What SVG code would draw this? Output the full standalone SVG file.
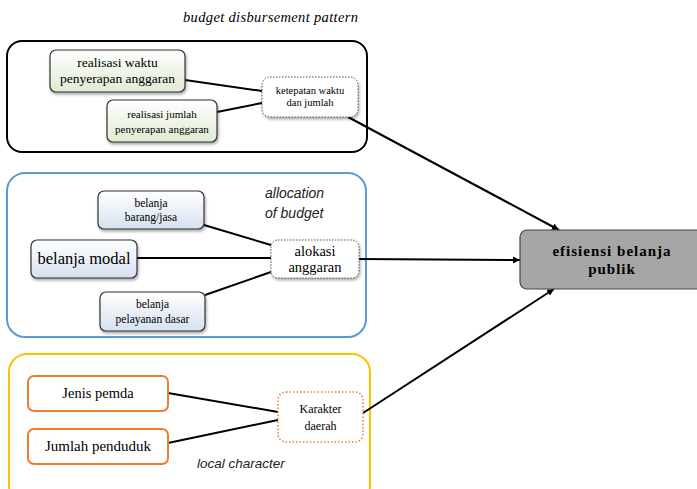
<svg xmlns="http://www.w3.org/2000/svg" width="697" height="489" viewBox="0 0 697 489">
<defs>
<linearGradient id="gGreen" x1="0" y1="0" x2="0" y2="1"><stop offset="0" stop-color="#ffffff"/><stop offset="1" stop-color="#dfead3"/></linearGradient>
<linearGradient id="gBlue" x1="0" y1="0" x2="0" y2="1"><stop offset="0" stop-color="#ffffff"/><stop offset="1" stop-color="#d6e1f0"/></linearGradient>
<filter id="sh" x="-20%" y="-20%" width="140%" height="150%"><feDropShadow dx="1" dy="2" stdDeviation="1.5" flood-color="#000" flood-opacity="0.35"/></filter>
<marker id="arr" viewBox="0 0 10 10" refX="10" refY="5" markerWidth="7" markerHeight="7" orient="auto" markerUnits="userSpaceOnUse"><path d="M0,0 L10,5 L0,10 z" fill="#000"/></marker>
</defs>
<style>
.t{font-family:"Liberation Serif","Times New Roman",serif;fill:#000;text-anchor:middle}
.it{font-family:"Liberation Serif","Times New Roman",serif;font-style:italic;fill:#000}
.is{font-family:"Liberation Sans",Arial,sans-serif;font-style:italic;fill:#222}
.ln{stroke:#000;stroke-width:2;fill:none}
.node{stroke:#333;stroke-width:1.2;filter:url(#sh)}
.dot{fill:#fff;stroke:#555;stroke-width:1;stroke-dasharray:1.5 1.5;filter:url(#sh)}
</style>
<rect width="697" height="489" fill="#fff"/>
<g id="group-top">
<rect x="7" y="41" width="360" height="111" rx="15" fill="none" stroke="#000" stroke-width="2"/>
<text class="it" x="183" y="22" font-size="14.5" textLength="175">budget disbursement pattern</text>
</g>
<g id="group-mid">
<rect x="7" y="173" width="359" height="164" rx="18" fill="none" stroke="#5b9bd5" stroke-width="2"/>
<text class="is" x="265" y="198" font-size="14">allocation</text>
<text class="is" x="265" y="218" font-size="14">of budget</text>
</g>
<g id="group-bot">
<rect x="9" y="354" width="361" height="150" rx="18" fill="none" stroke="#ffc000" stroke-width="2"/>
<text class="is" x="197" y="468" font-size="13.5">local character</text>
</g>
<g id="connectors">
<line class="ln" x1="185" y1="80" x2="262" y2="91"/>
<line class="ln" x1="217" y1="112" x2="262" y2="103"/>
<line class="ln" x1="204" y1="225" x2="271" y2="245"/>
<line class="ln" x1="137" y1="258" x2="271" y2="258"/>
<line class="ln" x1="205" y1="295" x2="271" y2="272"/>
<line class="ln" x1="168" y1="393" x2="278" y2="412"/>
<line class="ln" x1="168" y1="443" x2="278" y2="420"/>
<line class="ln" x1="348" y1="117" x2="559" y2="230" marker-end="url(#arr)"/>
<line class="ln" x1="359" y1="259" x2="520" y2="260" marker-end="url(#arr)"/>
<line class="ln" x1="363" y1="413" x2="554" y2="289" marker-end="url(#arr)"/>
</g>
<g id="n-realisasi-waktu">
<rect class="node" x="50" y="50" width="135" height="42" rx="6" fill="url(#gGreen)"/>
<text class="t" x="117.5" y="67" font-size="13.5">realisasi waktu</text>
<text class="t" x="117.5" y="83" font-size="13.5">penyerapan anggaran</text>
</g>
<g id="n-realisasi-jumlah">
<rect class="node" x="107" y="100" width="110" height="42" rx="6" fill="url(#gGreen)"/>
<text class="t" x="162" y="118" font-size="11">realisasi jumlah</text>
<text class="t" x="162" y="133" font-size="11">penyerapan anggaran</text>
</g>
<g id="n-ketepatan">
<rect class="dot" x="262" y="77" width="96" height="40" rx="8"/>
<text class="t" x="310" y="94" font-size="10.5">ketepatan waktu</text>
<text class="t" x="310" y="106" font-size="10.5">dan jumlah</text>
</g>
<g id="n-barang">
<rect class="node" x="98" y="191" width="106" height="38" rx="6" fill="url(#gBlue)"/>
<text class="t" x="151" y="207" font-size="11.5">belanja</text>
<text class="t" x="151" y="221" font-size="11.5">barang/jasa</text>
</g>
<g id="n-modal">
<rect class="node" x="31" y="240" width="106" height="38" rx="6" fill="url(#gBlue)"/>
<text class="t" x="84" y="264" font-size="16.5">belanja modal</text>
</g>
<g id="n-pelayanan">
<rect class="node" x="100" y="292" width="105" height="39" rx="6" fill="url(#gBlue)"/>
<text class="t" x="152.5" y="308" font-size="11.5">belanja</text>
<text class="t" x="152.5" y="323" font-size="11.5">pelayanan dasar</text>
</g>
<g id="n-alokasi">
<rect class="dot" x="271" y="240" width="88" height="38" rx="7"/>
<text class="t" x="315" y="256" font-size="14.5">alokasi</text>
<text class="t" x="315" y="272" font-size="14.5">anggaran</text>
</g>
<g id="n-jenis">
<rect x="28" y="376" width="140" height="35" rx="6" fill="#fff" stroke="#ed7d31" stroke-width="2"/>
<text class="t" x="98" y="398" font-size="14.5">Jenis pemda</text>
</g>
<g id="n-jumlah">
<rect x="28" y="429" width="140" height="35" rx="6" fill="#fff" stroke="#ed7d31" stroke-width="2"/>
<text class="t" x="98" y="451" font-size="15">Jumlah penduduk</text>
</g>
<g id="n-karakter">
<rect x="278" y="392" width="85" height="50" rx="8" fill="#fff" stroke="#ed7d31" stroke-width="1.5" stroke-dasharray="1.5 2"/>
<text class="t" x="320.5" y="413" font-size="12">Karakter</text>
<text class="t" x="320.5" y="430" font-size="12">daerah</text>
</g>
<g id="n-efisiensi">
<rect x="520" y="230" width="185" height="59" rx="7" fill="#a6a6a6" stroke="#444" stroke-width="1.2"/>
<text class="t" x="612" y="256" font-size="15" font-weight="bold" letter-spacing="1">efisiensi belanja</text>
<text class="t" x="612" y="274" font-size="15" font-weight="bold" letter-spacing="1">publik</text>
</g>
</svg>
